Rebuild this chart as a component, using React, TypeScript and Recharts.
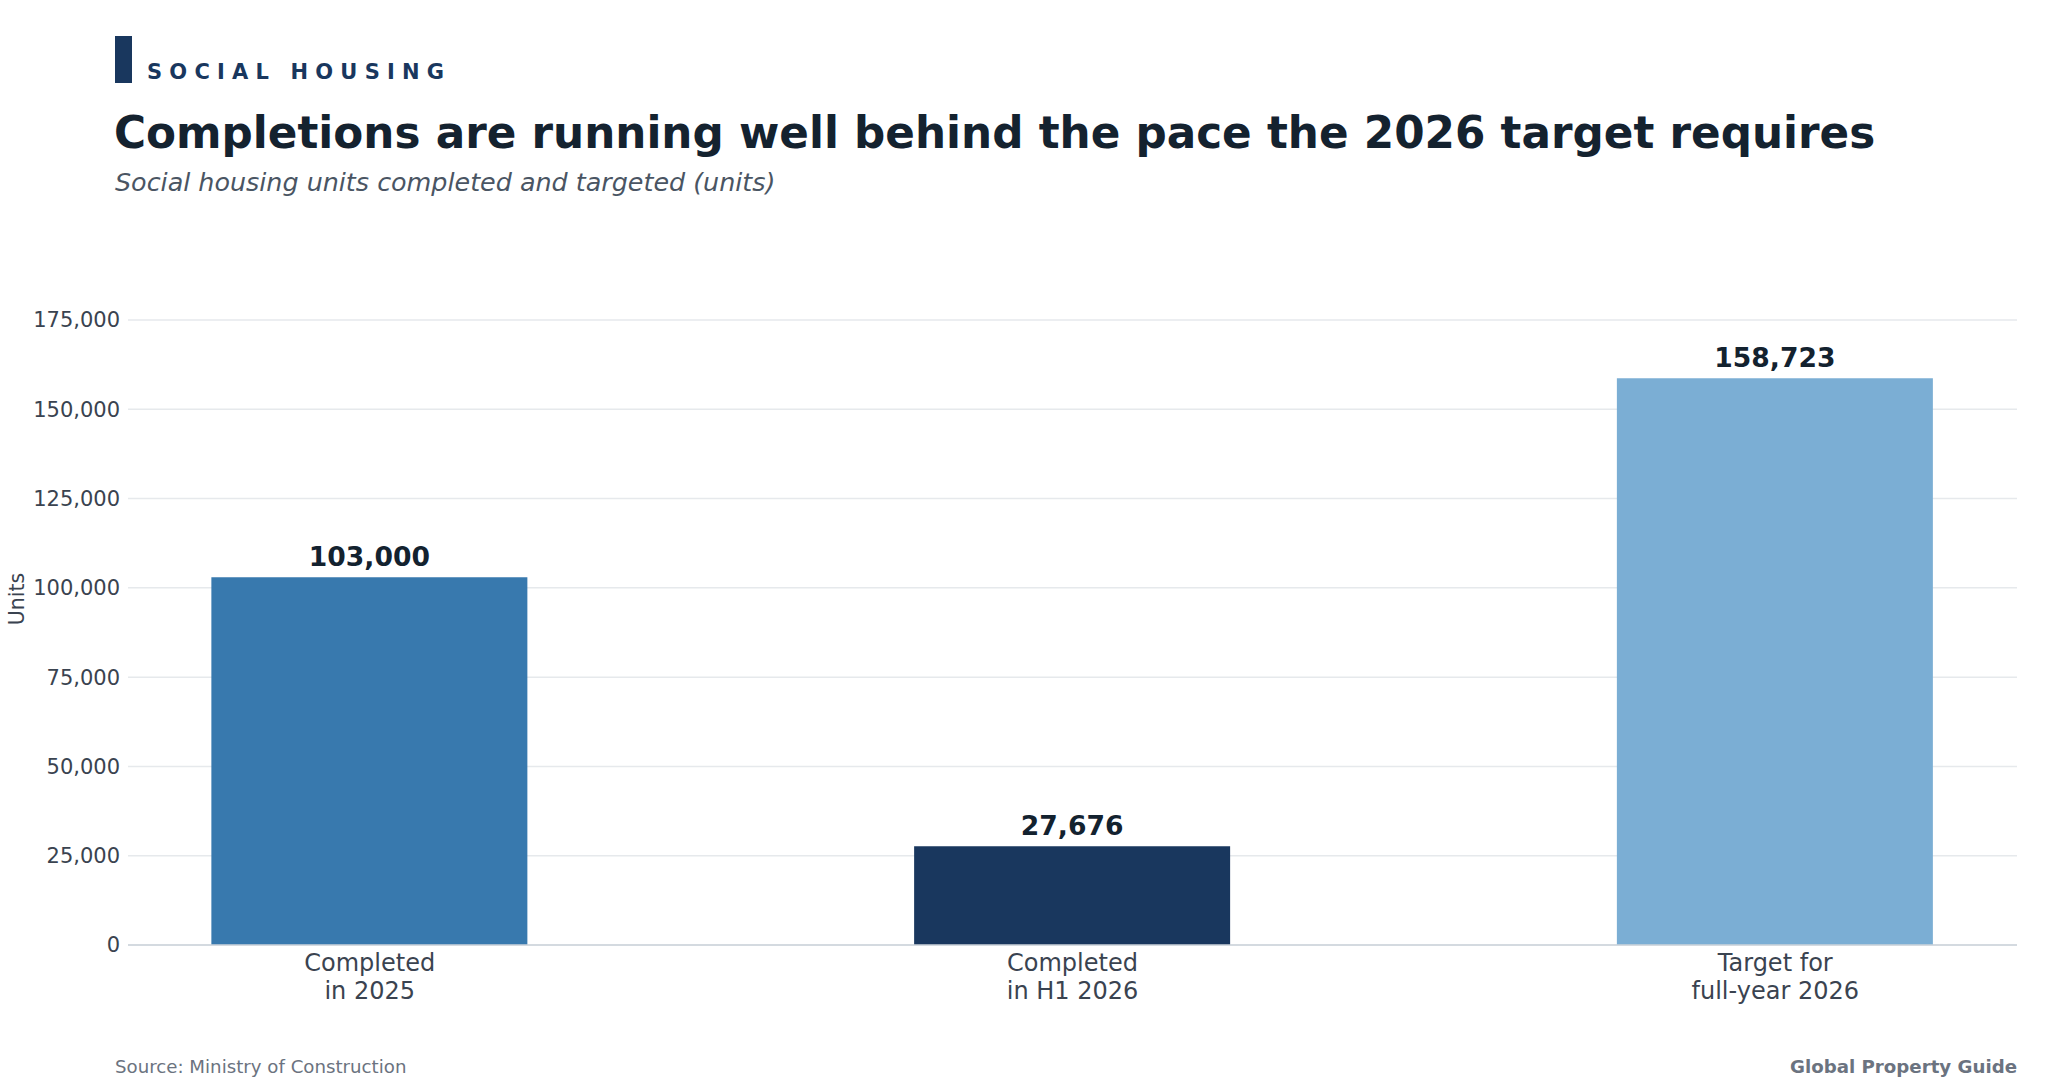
import React from "react";
import { BarChart, Bar, XAxis, YAxis, CartesianGrid, Cell, LabelList } from "recharts";

// chart data
const categories = ["Completed\nin 2025", "Completed\nin H1 2026", "Target for\nfull-year 2026"];
const units = [103000, 27676, 158723];
const yTicks = [0, 25000, 50000, 75000, 100000, 125000, 150000, 175000];

const BAR_COLORS = ["#3879ae", "#19375e", "#7baed4"];
const FONT = "'DejaVu Sans', sans-serif";

const W = 2060;
const H = 1090;

const data = categories.map((label, idx) => ({ idx, label, units: units[idx] }));

const fmt = (v: number) => Number(v).toLocaleString("en-US");

// two-line category labels under each bar
function CategoryTick(props: any) {
  const { x, y, payload } = props;
  const lines = String(categories[payload.value] ?? "").split("\n");
  return (
    <text x={x} y={y} textAnchor="middle" fill="#3a4350" fontSize={24} fontFamily={FONT}>
      {lines.map((line, i) => (
        <tspan key={i} x={x} dy={i === 0 ? 18 : 28}>
          {line}
        </tspan>
      ))}
    </text>
  );
}

export default function App() {
  return (
    <div style={{ position: "relative", width: W, height: H, background: "#fff", fontFamily: FONT }}>
      <style>{`body{margin:0;background:#fff}`}</style>

      <BarChart
        width={W}
        height={H}
        data={data}
        margin={{ top: 320, right: 43, bottom: 65, left: 0 }}
      >
        <CartesianGrid vertical={false} stroke="#e6e9ec" strokeWidth={1.5} />
        <XAxis
          type="number"
          dataKey="idx"
          domain={[-0.344, 2.344]}
          ticks={[0, 1, 2]}
          interval={0}
          height={80}
          tickLine={false}
          axisLine={{ stroke: "#cdd3da", strokeWidth: 1.5 }}
          tick={<CategoryTick />}
        />
        <YAxis
          width={128}
          domain={[0, 175000]}
          ticks={yTicks}
          interval={0}
          tickFormatter={fmt}
          axisLine={false}
          tickLine={false}
          tick={{ fontSize: 21, fill: "#3a4350", fontFamily: FONT }}
        />
        <Bar dataKey="units" barSize={316} isAnimationActive={false}>
          {data.map((entry, index) => (
            <Cell key={`cell-${index}`} fill={BAR_COLORS[index % BAR_COLORS.length]} />
          ))}
          <LabelList
            dataKey="units"
            position="top"
            offset={11}
            formatter={fmt}
            style={{ fontSize: 26.6, fontWeight: 700, fill: "#13222f", fontFamily: FONT }}
          />
        </Bar>
      </BarChart>

      {/* header, axis title and footer */}
      <svg
        width={W}
        height={H}
        style={{ position: "absolute", left: 0, top: 0, pointerEvents: "none" }}
        fontFamily={FONT}
      >
        <rect x={115} y={36} width={17} height={47} fill="#19375e" />
        <text x={147} y={79} fontSize={21} fontWeight={700} fill="#19375e" style={{ letterSpacing: "7.2px" }}>
          SOCIAL HOUSING
        </text>
        <text x={114} y={148} fontSize={43.7} fontWeight={700} fill="#14222f">
          Completions are running well behind the pace the 2026 target requires
        </text>
        <text x={115} y={191} fontSize={25.4} fontStyle="italic" fill="#4a5563">
          Social housing units completed and targeted (units)
        </text>
        <text
          x={0}
          y={0}
          transform="translate(24 599) rotate(-90)"
          textAnchor="middle"
          fontSize={20.5}
          fill="#3a4350"
        >
          Units
        </text>
        <text x={115} y={1073} fontSize={18.2} fill="#6b7380">
          Source: Ministry of Construction
        </text>
        <text x={2017} y={1073} fontSize={18.2} fontWeight={700} fill="#6b7380" textAnchor="end">
          Global Property Guide
        </text>
      </svg>
    </div>
  );
}
